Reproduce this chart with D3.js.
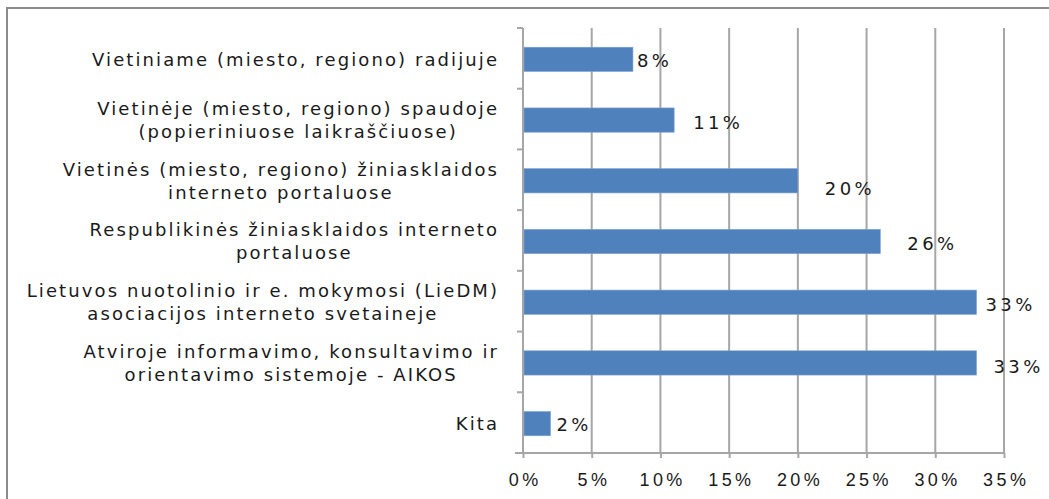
<!DOCTYPE html>
<html>
<head>
<meta charset="utf-8">
<script src="https://cdn.jsdelivr.net/npm/d3@7.9.0/dist/d3.min.js"></script>
<style>
  body { margin: 0; background: #fff; }
  svg { display: block; font-family: "DejaVu Sans", Verdana, sans-serif; }
</style>
</head>
<body>
<svg id="chart"></svg>
<script>
// categories (top to bottom), each one split in its display lines
const categories = [
    ['Vietiniame (miesto, regiono) radijuje'],
    ['Vietinėje (miesto, regiono) spaudoje', '(popieriniuose laikraščiuose)'],
    ['Vietinės (miesto, regiono) žiniasklaidos', 'interneto portaluose'],
    ['Respublikinės žiniasklaidos interneto', 'portaluose'],
    ['Lietuvos nuotolinio ir e. mokymosi (LieDM)', 'asociacijos interneto svetaineje'],
    ['Atviroje informavimo, konsultavimo ir', 'orientavimo sistemoje - AIKOS'],
    ['Kita']
];
const values = [8, 11, 20, 26, 33, 33, 2];
const xTicks = [0, 5, 10, 15, 20, 25, 30, 35];

// where the data labels sit relative to the bar end (the original puts them a bit loosely)
const labelNudge = [[4, 1], [19, 2], [27, 8], [27, 2], [9, 2], [17, 4], [6, 1]];

const width = 1049;
const height = 499;
const margin = { top: 28, right: 45, bottom: 46, left: 523 };

const svg = d3.select('#chart')
    .attr('width', width)
    .attr('height', height);

// outer frame of the chart area
svg.append('rect')
    .attr('x', 7)
    .attr('y', 8)
    .attr('width', width + 20)
    .attr('height', height + 20)
    .attr('fill', 'none')
    .attr('stroke', '#8c8c8c')
    .attr('stroke-width', 2);

const ids = categories.map((d, i) => i);

const xScale = d3.scaleLinear()
    .domain([0, 35])
    .range([margin.left, width - margin.right]);

const yScale = d3.scaleBand()
    .domain(ids)
    .range([margin.top, height - margin.bottom])
    .paddingInner(0.6)
    .paddingOuter(0.3);

const plotTop = margin.top;
const plotBottom = height - margin.bottom;

// vertical gridlines
svg.append('g')
    .selectAll('line')
    .data(xTicks.slice(1))
    .join('line')
    .attr('x1', d => xScale(d))
    .attr('x2', d => xScale(d))
    .attr('y1', plotTop)
    .attr('y2', plotBottom)
    .attr('stroke', '#a6a6a6')
    .attr('stroke-width', 2);

// x axis
const xAxis = svg.append('g')
    .attr('transform', `translate(0, ${plotBottom})`)
    .call(d3.axisBottom(xScale).tickValues(xTicks).tickFormat(d => d + '%').tickSize(5).tickSizeOuter(0));
xAxis.select('.domain')
    .attr('d', `M${margin.left - 8},0H${xScale(35)}`)
    .attr('stroke', '#a6a6a6')
    .attr('stroke-width', 2);
xAxis.selectAll('.tick line').attr('stroke', '#a6a6a6').attr('stroke-width', 2);
xAxis.selectAll('.tick text')
    .attr('y', 20)
    .attr('dy', '0.71em')
    .attr('dx', '1.7px')
    .attr('fill', '#1a1a1a')
    .style('font-size', '18px')
    .style('letter-spacing', '3.4px');

// y axis line with ticks at the category boundaries
const yAxis = svg.append('g');
yAxis.append('line')
    .attr('x1', margin.left).attr('x2', margin.left)
    .attr('y1', plotTop).attr('y2', plotBottom)
    .attr('stroke', '#a6a6a6')
    .attr('stroke-width', 2);
const step = yScale.step();
yAxis.selectAll('.ytick')
    .data(d3.range(categories.length))
    .join('line')
    .attr('class', 'ytick')
    .attr('x1', margin.left - 6).attr('x2', margin.left)
    .attr('y1', i => plotTop + i * step)
    .attr('y2', i => plotTop + i * step)
    .attr('stroke', '#a6a6a6')
    .attr('stroke-width', 2);

// bars
svg.append('g')
    .selectAll('rect')
    .data(values)
    .join('rect')
    .attr('x', xScale(0) + 1)
    .attr('y', (d, i) => yScale(i) + 1)
    .attr('width', d => xScale(d) - xScale(0) - 1)
    .attr('height', yScale.bandwidth())
    .attr('fill', '#4f81bd')
    .attr('stroke', '#7fa3d0')
    .attr('stroke-width', 0.6);

// value labels
svg.append('g')
    .selectAll('text')
    .data(values)
    .join('text')
    .attr('x', (d, i) => xScale(d) + labelNudge[i][0])
    .attr('y', (d, i) => yScale(i) + 1 + yScale.bandwidth() / 2 + labelNudge[i][1])
    .attr('dy', '0.36em')
    .attr('fill', '#1a1a1a')
    .style('font-size', '18px')
    .style('letter-spacing', '3.4px')
    .text(d => d + '%');

// category labels, lines centred on each other, block right aligned
const lineH = 23;
const labelRight = 497;
const catG = svg.append('g')
    .selectAll('g')
    .data(categories)
    .join('g');

catG.each(function(lines, i) {
    const g = d3.select(this);
    const cy = yScale(i) + 1 + yScale.bandwidth() / 2;
    const texts = g.selectAll('text')
        .data(lines)
        .join('text')
        .attr('y', (d, j) => cy + (j - (lines.length - 1) / 2) * lineH)
        .attr('dy', '0.36em')
        .attr('fill', '#1a1a1a')
        .style('font-size', '18px')
        .style('letter-spacing', '2.1px')
        .text(d => d);
    // trailing letter spacing is counted in the length, leave it out
    const widths = texts.nodes().map(n => n.getComputedTextLength() - 2.1);
    const maxW = d3.max(widths);
    const center = labelRight - maxW / 2;
    texts.attr('x', center + 1.05).attr('text-anchor', 'middle');
});
</script>
</body>
</html>
